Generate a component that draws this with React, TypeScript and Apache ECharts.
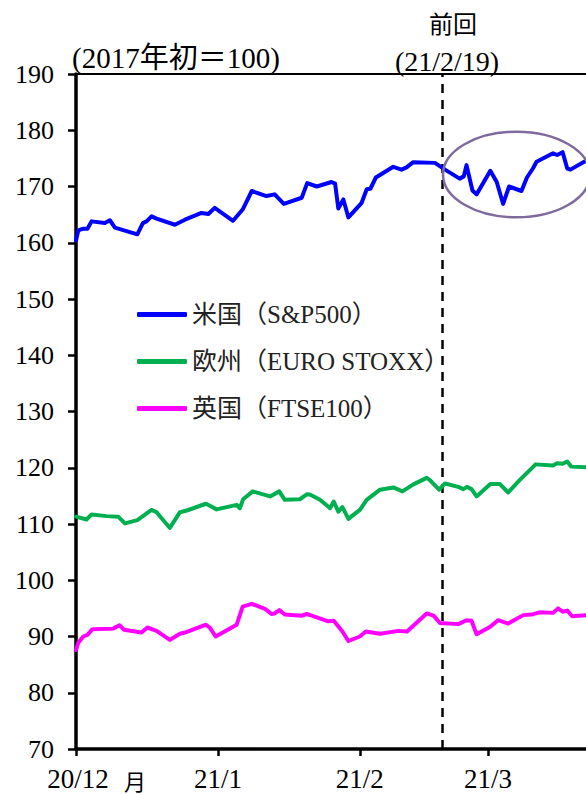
import React, { useEffect, useRef } from "react";
import * as echarts from "echarts";

// x values are day offsets from 2020-12-01
const monthTickDays = [0, 31, 62, 90];
const monthTickLabels = ["20/12", "21/1", "21/2", "21/3"];
const yTickValues = [70, 80, 90, 100, 110, 120, 130, 140, 150, 160, 170, 180, 190];
const xMax = 111.4;
const yMin = 70;
const yMax = 190;
const yInterval = 10;

const seriesNames = ["米国（S&P500）", "欧州（EURO STOXX）", "英国（FTSE100）"];
const seriesColors = ["#0000FF", "#00B050", "#FF00FF"];

const usDays = [0, 0.5, 1.6, 2.5, 3.4, 6.3, 7.4, 8.5, 13.4, 14.6, 15.4, 16.5, 17.6, 21.6, 23.8, 27.4, 28.9, 30.3, 34.3, 36.4, 38.4, 41.6, 43.4, 45.4, 49.3, 50.5, 52.6, 55.8, 56.6, 57.3, 58.4, 59.5, 62.4, 63.5, 64.3, 65.5, 69.3, 71.1, 72.2, 73.6, 78.4, 80.6, 83.8, 84.7, 85.3, 86.6, 87.5, 90.5, 91.9, 93.3, 94.6, 97.3, 98.5, 99.8, 100.6, 104.2, 105.1, 106.3, 107.3, 108.0, 111.4];
const usValues = [160.4, 162.2, 162.5, 162.5, 163.8, 163.5, 164.0, 162.7, 161.5, 163.5, 163.8, 164.7, 164.3, 163.2, 164.1, 165.3, 165.1, 166.2, 163.9, 165.9, 169.2, 168.3, 168.6, 166.9, 168.0, 170.6, 170.0, 170.8, 170.5, 166.1, 167.7, 164.5, 167.1, 169.5, 169.6, 171.6, 173.5, 173.0, 173.4, 174.3, 174.2, 173.0, 171.4, 171.8, 173.8, 169.3, 168.6, 172.8, 170.8, 166.9, 170.0, 169.2, 171.6, 173.2, 174.4, 175.9, 175.6, 176.1, 173.2, 173.0, 174.6];

const euDays = [0, 2.3, 3.4, 6.7, 9.2, 10.7, 13.4, 16.5, 17.6, 20.5, 22.7, 24.2, 28.4, 30.7, 35.1, 35.8, 36.5, 38.6, 42.4, 44.4, 45.6, 48.9, 50.5, 51.2, 53.3, 55.5, 56.3, 57.3, 58.2, 59.5, 62.0, 63.5, 66.4, 69.3, 71.3, 73.6, 76.6, 77.3, 79.3, 80.6, 83.5, 84.6, 85.4, 86.4, 87.5, 90.5, 92.6, 94.4, 96.9, 100.4, 104.2, 105.1, 106.3, 107.3, 108.2, 111.4];
const euValues = [111.3, 110.8, 111.7, 111.4, 111.3, 110.1, 110.7, 112.5, 112.1, 109.3, 112.1, 112.4, 113.6, 112.6, 113.4, 112.8, 114.4, 115.8, 114.9, 115.8, 114.3, 114.4, 115.3, 115.2, 114.3, 112.8, 114.0, 112.2, 113.0, 110.9, 112.5, 114.3, 116.1, 116.5, 115.8, 117.0, 118.2, 117.8, 116.1, 117.2, 116.6, 116.2, 116.6, 116.2, 114.9, 117.1, 117.1, 115.6, 117.8, 120.6, 120.4, 120.8, 120.7, 121.1, 120.2, 120.1];

const ukDays = [0, 0.5, 1.6, 2.5, 3.6, 8.1, 9.5, 10.5, 14.3, 15.6, 17.6, 20.5, 22.7, 23.8, 28.4, 29.3, 30.5, 35.1, 36.4, 38.4, 41.3, 42.7, 43.4, 44.4, 45.6, 49.3, 50.4, 51.5, 55.1, 56.3, 58.2, 59.5, 62.0, 63.3, 66.4, 70.4, 72.3, 76.6, 78.1, 79.5, 83.5, 85.3, 86.4, 87.5, 90.4, 92.2, 94.4, 97.7, 99.5, 101.3, 104.2, 105.3, 106.3, 107.3, 108.4, 111.4];
const ukValues = [87.6, 88.9, 90.0, 90.3, 91.3, 91.4, 92.0, 91.2, 90.7, 91.6, 91.0, 89.4, 90.5, 90.7, 92.1, 91.5, 90.0, 92.1, 95.3, 95.8, 94.9, 94.0, 94.1, 94.7, 93.9, 93.7, 94.0, 93.7, 92.7, 92.8, 90.9, 89.2, 90.0, 90.9, 90.5, 91.0, 90.9, 94.1, 93.7, 92.4, 92.2, 92.9, 92.8, 90.4, 91.7, 92.9, 92.3, 93.8, 93.9, 94.3, 94.2, 95.0, 94.4, 94.6, 93.6, 93.8];

const previousDay = 80; // 2021-02-19
const previousTitle = "前回";
const previousDate = "(21/2/19)";
const unitText = "(2017年初＝100)";
const monthSuffix = "月";

const FAMILY = "Liberation Serif, Noto Sans CJK JP, serif";
const TICK_FAMILY = '"Liberation Serif", "Times New Roman", serif';

export default function App() {
  const ref = useRef<HTMLDivElement>(null);

  useEffect(() => {
    if (!ref.current) return;
    const chart = echarts.init(ref.current, undefined, { renderer: "svg" });
    const pairs = (d: number[], v: number[]) => d.map((x, i) => [x, v[i]]);
    const dataSets = [pairs(usDays, usValues), pairs(euDays, euValues), pairs(ukDays, ukValues)];

    chart.setOption({
      animation: false,
      backgroundColor: "#fff",
      textStyle: { fontFamily: FAMILY },
      grid: {
        left: 76,
        right: 0,
        top: 74,
        bottom: 45,
        outerBoundsMode: "none",
      },
      xAxis: [
        {
          type: "value",
          min: 0,
          max: xMax,
          splitLine: { show: false },
          axisLine: { show: true, onZero: false, lineStyle: { color: "#000", width: 3.5 } },
          axisTick: {
            show: true,
            inside: false,
            length: 7,
            customValues: monthTickDays,
            lineStyle: { color: "#000", width: 2.5 },
          },
          axisLabel: { show: false },
        },
        {
          type: "value",
          position: "top",
          min: 0,
          max: xMax,
          splitLine: { show: false },
          axisLine: { show: true, onZero: false, lineStyle: { color: "#000", width: 2 } },
          axisTick: { show: false },
          axisLabel: { show: false },
        },
      ],
      yAxis: {
        type: "value",
        min: yMin,
        max: yMax,
        interval: yInterval,
        splitLine: { show: false },
        axisLine: { show: true, onZero: false, lineStyle: { color: "#000", width: 3.5 } },
        axisTick: { show: true, inside: false, length: 8, lineStyle: { color: "#000", width: 2.5 } },
        axisLabel: { show: false },
      },
      legend: {
        orient: "vertical",
        left: 137,
        top: 302,
        padding: 0,
        icon: "roundRect",
        itemWidth: 50,
        itemHeight: 5,
        itemGap: 22,
        data: seriesNames,
        textStyle: { fontSize: 25, color: "#222", fontFamily: FAMILY },
      },
      series: seriesNames.map((name, i) => ({
        name,
        type: "line",
        xAxisIndex: 0,
        data: dataSets[i],
        symbol: "none",
        showSymbol: false,
        color: seriesColors[i],
        itemStyle: { color: seriesColors[i] },
        lineStyle: { color: seriesColors[i], width: 4, join: "round", cap: "round" },
        z: 3,
        markLine:
          i === 0
            ? {
                silent: true,
                symbol: ["none", "none"],
                label: { show: false },
                lineStyle: { color: "#000", type: [9, 7], width: 2.5 },
                data: [{ xAxis: previousDay }],
                z: 2,
              }
            : undefined,
      })),
    });

    // tick labels placed through the axes' own scales
    const yLabels = yTickValues.map((v) => {
      const [px, py] = chart.convertToPixel({ gridIndex: 0 }, [0, v]) as number[];
      return {
        type: "text",
        x: px - 22,
        y: py,
        style: {
          text: String(v),
          fill: "#000",
          fontSize: 26,
          fontFamily: TICK_FAMILY,
          fontWeight: "normal",
          textAlign: "right",
          textVerticalAlign: "middle",
        },
      };
    });
    const xLabels = monthTickDays.map((d, i) => {
      const [px, py] = chart.convertToPixel({ gridIndex: 0 }, [d, yMin]) as number[];
      return {
        type: "text",
        x: px + (i === 0 ? 2 : 0),
        y: py + 30,
        style: {
          text: monthTickLabels[i],
          fill: "#000",
          fontSize: 27,
          fontFamily: TICK_FAMILY,
          fontWeight: "normal",
          textAlign: "center",
          textVerticalAlign: "middle",
        },
      };
    });

    chart.setOption({
      graphic: [
        ...yLabels,
        ...xLabels,
        {
          type: "text",
          x: 135,
          y: 782,
          style: {
            text: monthSuffix,
            fill: "#000",
            font: `22px ${FAMILY}`,
            textAlign: "center",
            textVerticalAlign: "middle",
          },
        },
        {
          type: "text",
          x: 72,
          y: 58,
          style: {
            text: unitText,
            fill: "#000",
            font: `29px ${FAMILY}`,
            textAlign: "left",
            textVerticalAlign: "middle",
          },
        },
        {
          type: "text",
          x: 453,
          y: 25,
          style: {
            text: previousTitle,
            fill: "#000",
            font: `24px ${FAMILY}`,
            textAlign: "center",
            textVerticalAlign: "middle",
          },
        },
        {
          type: "text",
          x: 447,
          y: 61,
          style: {
            text: previousDate,
            fill: "#000",
            font: `28px ${FAMILY}`,
            textAlign: "center",
            textVerticalAlign: "middle",
          },
        },
        {
          type: "ellipse",
          shape: { cx: 516.5, cy: 174.5, rx: 73.5, ry: 42.8 },
          style: { fill: "none", stroke: "#7F6A9E", lineWidth: 2.5 },
          z: 10,
        },
      ],
    });

    return () => chart.dispose();
  }, []);

  return (
    <div
      ref={ref}
      style={{ position: "fixed", left: 0, top: 0, width: 586, height: 794, background: "#fff" }}
    />
  );
}
